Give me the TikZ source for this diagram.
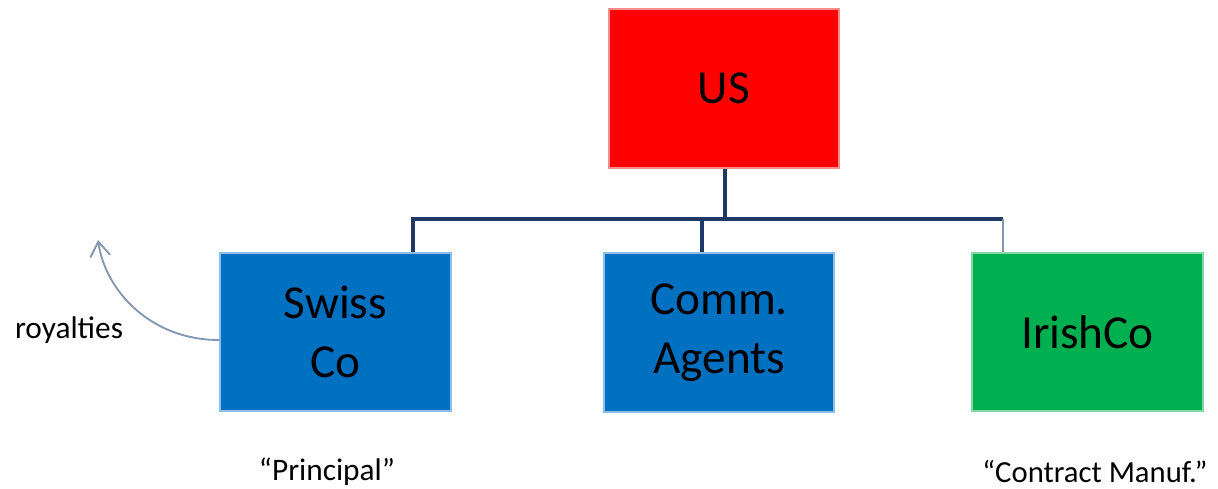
\documentclass[tikz,border=0pt]{standalone}
\usepackage{fontspec}
\setmainfont{Carlito}
\usetikzlibrary{arrows.meta}
\definecolor{usred}{HTML}{FF0000}
\definecolor{usedge}{HTML}{FF8C8C}
\definecolor{coblue}{HTML}{0070C0}
\definecolor{coedge}{HTML}{8DBDE8}
\definecolor{irgreen}{HTML}{00B050}
\definecolor{iredge}{HTML}{80D8A8}
\definecolor{linknavy}{HTML}{1F3864}
\definecolor{linkgrey}{HTML}{8497B0}
\begin{document}
\begin{tikzpicture}[x=0.75pt,y=-0.75pt,
  entity/.style={draw, line width=1.5pt, minimum width=173pt, minimum height=119pt,
    align=center, font=\fontsize{35.5}{44}\selectfont, inner sep=0pt},
  link/.style={draw=linknavy, line width=2.4pt},
  note/.style={font=\fontsize{23.5}{28}\selectfont, inner sep=0pt}]
\useasboundingbox (0,0) rectangle (1218,489);
\node[entity, fill=usred, draw=usedge] (us) at (724,88.5) {US};
\node[entity, fill=coblue, draw=coedge] (swiss) at (335.5,332) {Swiss\\Co};
\node[entity, fill=coblue, draw=coedge] (comm) at (719,332.5) {Comm.\\Agents};
\node[entity, fill=irgreen, draw=iredge] (irish) at (1087.5,332) {IrishCo};
\coordinate (bus) at (725,219);
% org chart connectors
\draw[link] (us.south -| bus) -- (bus);
\draw[link] (swiss.north -| 413,0) |- (bus);
\draw[link] (bus) -| (1003,219);
\draw[link] (comm.north -| 702,0) -- (702,219);
\draw[draw=linkgrey, line width=1.6pt] (irish.north -| 1003,0) -- (1003,219);
% royalties flow
\coordinate (roy) at (98,240);
\draw[linkgrey, line width=1.4pt, -{Straight Barb[length=11pt,width=15pt]}]
  (swiss.west |- 0,340) .. controls (150,340) and (105,290) .. (roy);
\node[note] (lroy) at (69,330) {royalties};
\node[note] (lpri) at (327,472) {“Principal”};
\node[note, font=\fontsize{23}{27}\selectfont] (lcon) at (1095,472) {“Contract Manuf.”};
\end{tikzpicture}
\end{document}
